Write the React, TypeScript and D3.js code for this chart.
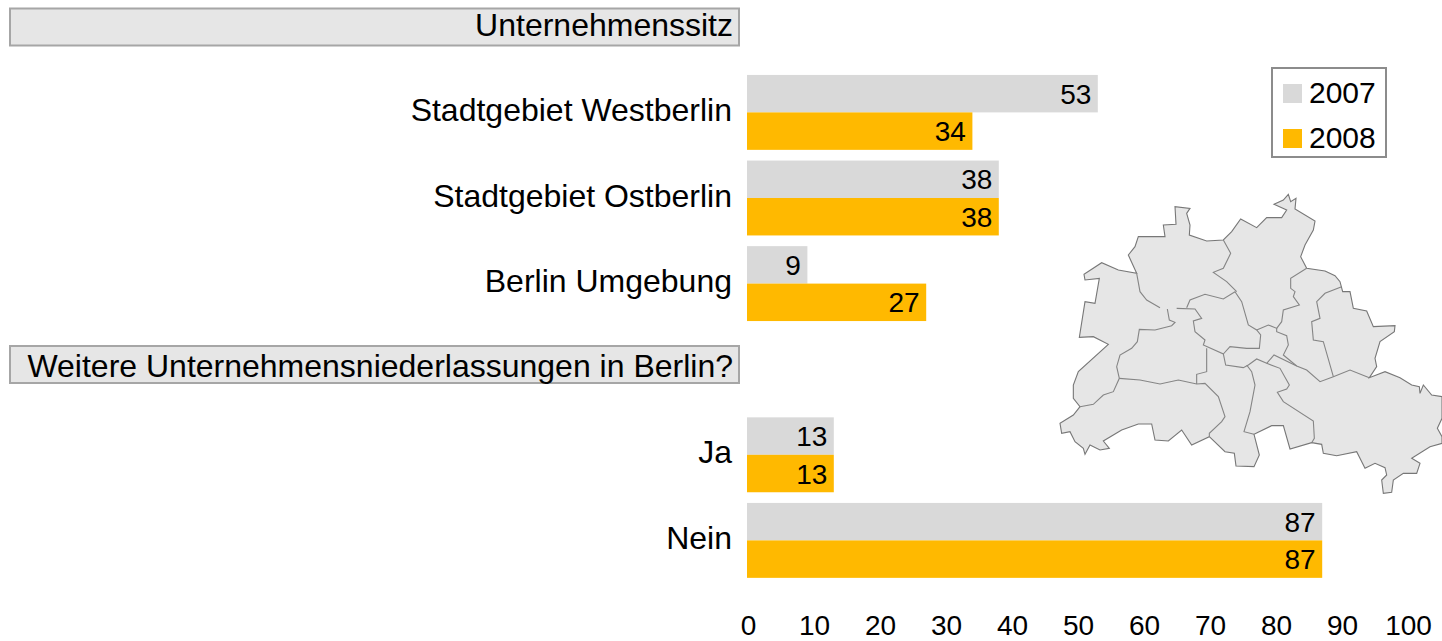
import React from "react";
import * as d3 from "d3";

const rows = ["Unternehmenssitz", "Stadtgebiet Westberlin", "Stadtgebiet Ostberlin", "Berlin Umgebung", "Weitere Unternehmensniederlassungen in Berlin?", "Ja", "Nein"];
const headers = ["Unternehmenssitz", "Weitere Unternehmensniederlassungen in Berlin?"];
const categories = ["Stadtgebiet Westberlin", "Stadtgebiet Ostberlin", "Berlin Umgebung", "Ja", "Nein"];
const values2007 = [53, 38, 9, 13, 87];
const values2008 = [34, 38, 27, 13, 87];
const seriesNames = ["2007", "2008"];
const ticks = [0, 10, 20, 30, 40, 50, 60, 70, 80, 90, 100];
const seriesColors = ["#d9d9d9", "#ffb900"];

type P = [number, number];
const outline: P[] = [[265,155],[345,155],[340,120],[378,118],[375,65],[420,70],[410,85],[420,120],[418,150],[470,168],[520,165],[545,140],[572,102],[620,128],[650,98],[695,98],[710,75],[672,58],[700,45],[715,28],[722,50],[738,40],[735,72],[795,108],[790,135],[765,180],[752,215],[770,250],[825,258],[855,272],[870,290],[878,320],[900,320],[910,370],[950,378],[970,425],[1035,422],[1033,440],[990,470],[975,520],[980,545],[958,578],[1005,560],[1050,578],[1085,600],[1108,605],[1110,625],[1120,600],[1145,630],[1176,635],[1176,700],[1162,730],[1176,755],[1176,775],[1140,785],[1085,820],[1110,835],[1100,865],[1060,865],[1030,885],[1025,922],[1000,925],[995,885],[1010,870],[1005,848],[975,835],[945,850],[920,800],[860,812],[820,805],[815,778],[785,773],[720,792],[700,722],[665,722],[612,748],[628,810],[612,845],[558,843],[553,805],[525,800],[478,755],[425,780],[395,735],[355,768],[315,765],[305,717],[265,717],[215,735],[160,768],[178,790],[150,795],[120,780],[105,808],[100,790],[75,770],[60,740],[35,745],[30,715],[70,690],[90,665],[70,640],[70,600],[85,560],[175,478],[130,455],[88,457],[105,350],[135,355],[148,280],[105,285],[102,268],[155,233],[205,255],[260,265],[235,210],[255,185]];
const borders: P[][] = [
  [[260,265],[270,320],[290,345],[330,368]],
  [[352,372],[358,405],[375,412],[365,422],[315,435],[268,433],[262,470],[245,490],[210,510],[200,545],[208,580],[190,620],[160,630],[130,658],[90,665]],
  [[208,580],[270,585],[330,597],[385,585],[440,597],[465,595],[505,635],[525,695],[515,710],[478,745],[478,755]],
  [[380,370],[435,372],[455,400],[430,408],[435,440],[465,465],[460,480],[520,507],[527,540],[580,548],[595,540],[620,522],[650,535],[690,550],[718,600],[710,612],[682,622],[700,650],[790,708],[793,760],[785,773]],
  [[470,490],[470,560],[440,568],[440,597]],
  [[410,368],[420,345],[465,328],[520,342],[555,320],[575,350],[595,420],[620,435],[632,450],[628,490],[590,490],[540,485],[520,507]],
  [[520,165],[542,205],[520,250],[490,262],[530,290],[560,320]],
  [[620,435],[655,420],[680,430],[680,440],[710,452],[715,480],[700,510],[740,543],[770,555],[810,590],[850,575],[900,555],[958,578]],
  [[650,535],[672,510],[740,543]],
  [[590,540],[605,560],[615,600],[600,680],[582,740],[612,748]],
  [[770,250],[722,280],[722,310],[735,320],[730,335],[748,360],[700,375],[695,410],[680,430]],
  [[875,305],[825,325],[800,350],[810,400],[785,410],[790,465],[820,470],[850,575]],
];

const font = "'Liberation Sans', Arial, sans-serif";

export default function App() {
  const x = d3.scaleLinear().domain([0, 100]).range([748, 1408]);
  const y = d3.scaleBand().domain(rows).range([-16, 583.2]).paddingInner(0.125).paddingOuter(0.0625);
  const inner = d3.scaleBand().domain(seriesNames).range([0, y.bandwidth()]);
  const mx = d3.scaleLinear().domain([0, 392]).range([1050, 1180.67]);
  const my = d3.scaleLinear().domain([0, 315]).range([185, 290]);
  const line = d3.line<P>().x(d => mx(d[0])).y(d => my(d[1]));
  const series = [values2007, values2008];
  const boxes: Record<string, [number, number]> = { [headers[0]]: [8.5, 45.5], [headers[1]]: [346, 383] };
  const base = [36, 377];
  return (
    <svg width={1442} height={641} style={{ position: "absolute", left: 0, top: 0 }} fontFamily={font}>
      <path d={line(outline) + "Z"} fill="#e6e6e6" stroke="none" />
      <path d={line(outline) + "Z"} fill="none" stroke="#777" strokeWidth={1.1} />
      {borders.map((b, i) => <path key={i} d={line(b) || ""} fill="none" stroke="#858585" strokeWidth={1.1} />)}

      {headers.map((h, i) => (
        <g key={h}>
          <rect x={10} y={boxes[h][0]} width={729} height={boxes[h][1] - boxes[h][0]} fill="#e6e6e6" stroke="#a6a6a6" strokeWidth={2} />
          <text x={733} y={base[i]} textAnchor="end" fontSize={32} fill="#000">{h}</text>
        </g>
      ))}

      {categories.map((c, i) => (
        <g key={c}>
          <text x={732} y={y(c)! + y.bandwidth() / 2 + 8.5} textAnchor="end" fontSize={32} fill="#000">{c}</text>
          {series.map((s, j) => (
            <g key={j}>
              <rect x={x(0) - 1} y={y(c)! + inner(seriesNames[j])!} width={x(s[i]) - x(0) + 1} height={inner.bandwidth()} fill={seriesColors[j]} />
              <text x={x(s[i]) - 6.5} y={y(c)! + inner(seriesNames[j])! + inner.bandwidth() / 2 + 10} textAnchor="end" fontSize={28} fill="#000">{s[i]}</text>
            </g>
          ))}
        </g>
      ))}

      {ticks.map(t => (
        <text key={t} x={x(t) + 0.5} y={635} textAnchor="middle" fontSize={28} fill="#000">{t}</text>
      ))}

      <rect x={1272} y={68} width={114} height={89} fill="#fff" stroke="#8c8c8c" strokeWidth={2} />
      {seriesNames.map((n, i) => (
        <g key={n}>
          <rect x={1283} y={84 + i * 45} width={19} height={19} fill={seriesColors[i]} />
          <text x={1309} y={103 + i * 45} fontSize={30} fill="#000">{n}</text>
        </g>
      ))}
    </svg>
  );
}
